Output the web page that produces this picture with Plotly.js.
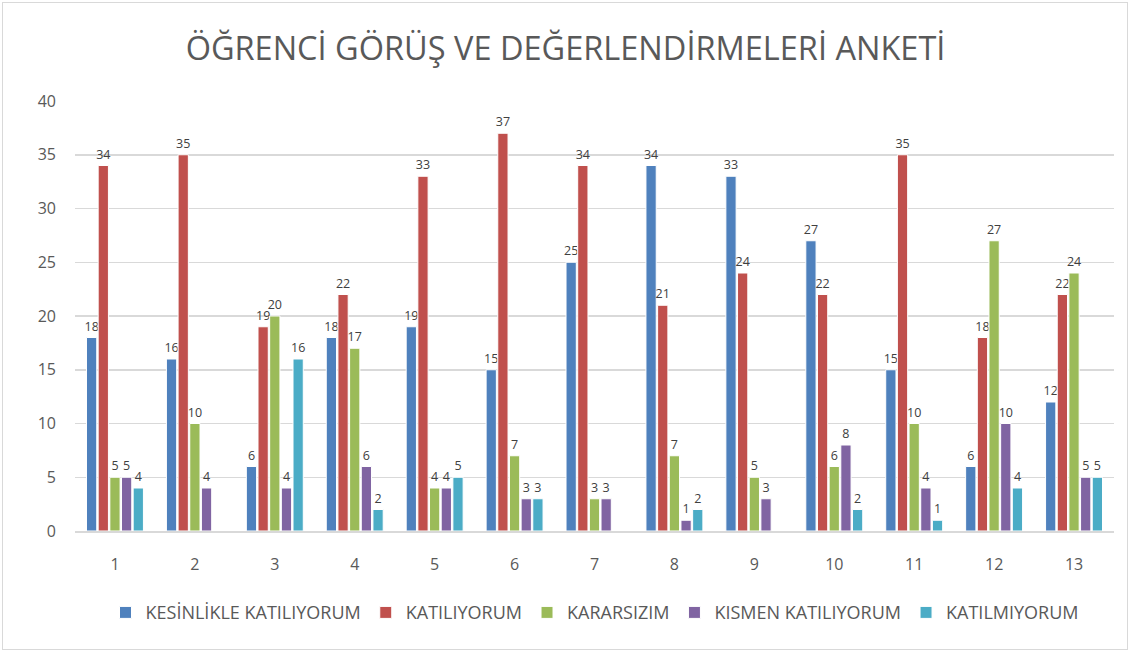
<!DOCTYPE html>
<html><head><meta charset="utf-8">
<script src="https://cdn.plot.ly/plotly-3.0.1.min.js"></script>
<style>
html,body{margin:0;padding:0;background:#fff;}
#wrap{position:relative;width:1131px;height:653px;}
#chart{width:1131px;height:653px;}
#frame{position:absolute;left:2px;top:2px;width:1126px;height:648px;border:1px solid #d9d9d9;box-sizing:border-box;pointer-events:none;}
</style></head>
<body>
<div id="wrap"><div id="chart"></div><div id="frame"></div></div>
<script>
const categories = ['1','2','3','4','5','6','7','8','9','10','11','12','13'];
const seriesNames = ['KESİNLİKLE KATILIYORUM','KATILIYORUM','KARARSIZIM','KISMEN KATILIYORUM','KATILMIYORUM'];
const kesinlikleKatiliyorum = [18,16,6,18,19,15,25,34,33,27,15,6,12];
const katiliyorum = [34,35,19,22,33,37,34,21,24,22,35,18,22];
const kararsizim = [5,10,20,17,4,7,3,7,5,6,10,27,24];
const kismenKatiliyorum = [5,4,4,6,4,3,3,1,3,8,4,10,5];
const katilmiyorum = [4,null,16,2,5,3,null,2,null,2,1,4,5];
const colors = ['#4F81BD','#C0504D','#9BBB59','#8064A2','#4BACC6'];
const allSeries = [kesinlikleKatiliyorum,katiliyorum,kararsizim,kismenKatiliyorum,katilmiyorum];

const font = 'Open Sans, Liberation Sans, sans-serif';
const traces = allSeries.map((vals,i)=>({
  type:'bar', name:seriesNames[i], x:categories, y:vals,
  marker:{color:colors[i], line:{color:'#ffffff', width:1}},
  text:vals.map(v=>v==null?'':String(v)), textposition:'outside', constraintext:'none',
  textfont:{family:font, size:12.5, color:'#404040'}, cliponaxis:false,
  hoverinfo:'x+y+name'
}));

const layout = {
  width:1131, height:653,
  margin:{l:75, r:17, t:101, b:122},
  paper_bgcolor:'#ffffff', plot_bgcolor:'#ffffff',
  title:{text:'ÖĞRENCİ GÖRÜŞ VE DEĞERLENDİRMELERİ ANKETİ', font:{family:font, size:32.5, color:'#595959'}, x:0.5, xanchor:'center', y:0.925, yanchor:'middle'},
  barmode:'group', bargap:0.27, bargroupgap:0.12,
  uniformtext:{mode:false},
  xaxis:{type:'category', showgrid:false, showline:true, linecolor:'#d9d9d9', linewidth:1.5,
    tickfont:{family:font, size:16, color:'#595959'}, ticks:'', ticklabelstandoff:18},
  yaxis:{range:[0,40], dtick:5, showgrid:true, gridcolor:'#d9d9d9', gridwidth:1.5, zeroline:false,
    showline:false, tickfont:{family:font, size:16, color:'#595959'}, ticklabelstandoff:18},
  legend:{orientation:'h', x:0.5, xanchor:'center', y:-0.19, yanchor:'middle',
    font:{family:font, size:18, color:'#595959'}, traceorder:'normal', itemwidth:30},
  showlegend:true
};
Plotly.newPlot('chart', traces, layout, {displayModeBar:false, staticPlot:true});
</script>
</body></html>
